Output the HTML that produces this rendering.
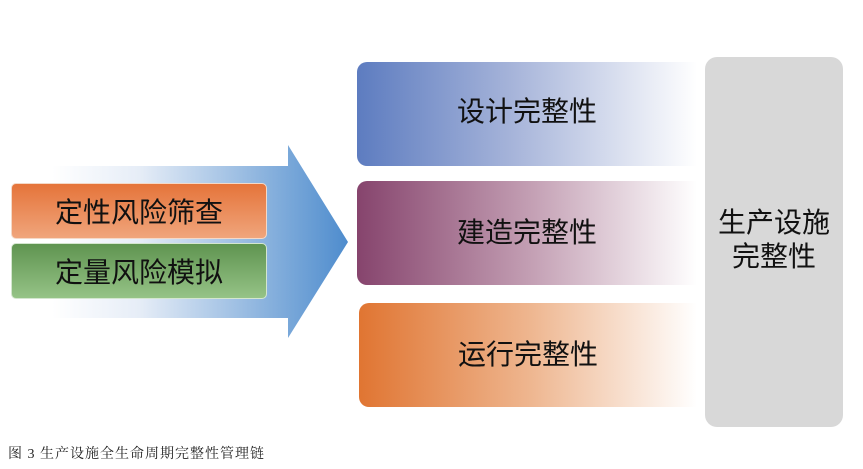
<!DOCTYPE html>
<html><head><meta charset="utf-8"><style>
body{margin:0;width:863px;height:469px;background:#fff;position:relative;overflow:hidden;font-family:"Liberation Sans","Noto Sans CJK SC",sans-serif}
.b{position:absolute;display:flex;align-items:center;justify-content:center;color:#111}
</style></head><body>
<svg width="863" height="469" style="position:absolute;left:0;top:0">
<defs>
<linearGradient id="ar" x1="0" x2="1"><stop offset="0.15" stop-color="#fff"/><stop offset="0.4" stop-color="#e6edf7"/><stop offset="1" stop-color="#4e8ccd"/></linearGradient>
</defs>
<polygon points="0,166 288,166 288,145 348,242 288,338 288,318 0,318" fill="url(#ar)"/>
</svg>
<div class="b" style="left:11px;top:183px;width:254px;height:54px;border-radius:5px;background:linear-gradient(#e5743a,#f0a57c);border:1px solid #f4d9c8;font-size:28px">定性风险筛查</div>
<div class="b" style="left:11px;top:243px;width:254px;height:54px;border-radius:5px;background:linear-gradient(#5f9450,#95c386);border:1px solid #d4e6cf;font-size:28px">定量风险模拟</div>
<div class="b" style="left:357px;top:62px;width:340px;height:104px;border-radius:10px 0 0 10px;background:linear-gradient(90deg,#5d7cc0,#a5b3d9 45%,#fff);font-size:28px;padding-bottom:8px;box-sizing:border-box">设计完整性</div>
<div class="b" style="left:357px;top:181px;width:340px;height:104px;border-radius:10px 0 0 10px;background:linear-gradient(90deg,#86446d,#c29db2 50%,#fff);font-size:28px;padding-bottom:4px;box-sizing:border-box">建造完整性</div>
<div class="b" style="left:359px;top:303px;width:338px;height:104px;border-radius:10px 0 0 10px;background:linear-gradient(90deg,#e07532,#eeb58e 50%,#fff);font-size:28px;padding-bottom:4px;box-sizing:border-box">运行完整性</div>
<div class="b" style="left:705px;top:57px;width:138px;height:370px;border-radius:12px;background:#d8d8d8;font-size:28px;line-height:34px;text-align:center;padding-bottom:4px;box-sizing:border-box">生产设施<br>完整性</div>
<div style="position:absolute;left:8px;top:443px;font-size:14px;letter-spacing:1px;font-family:'Liberation Serif','Noto Serif CJK SC',serif;color:#222">图 3 生产设施全生命周期完整性管理链</div>
</body></html>
